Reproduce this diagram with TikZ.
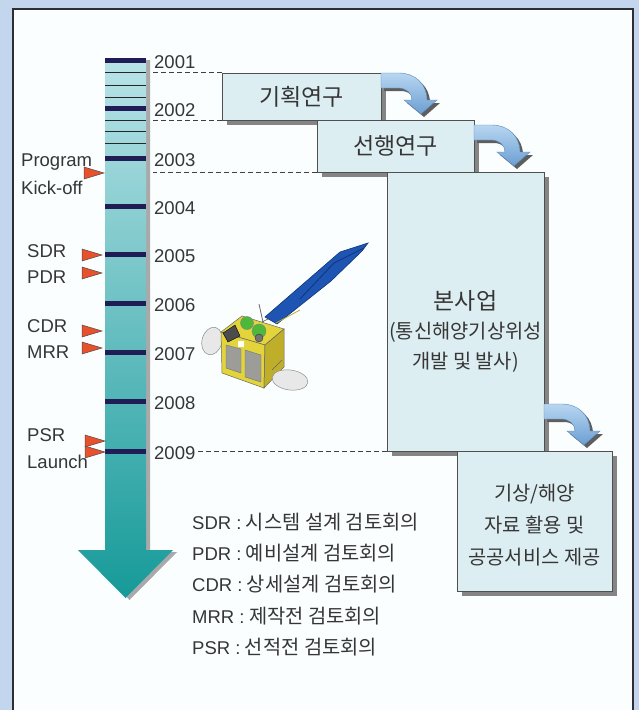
\documentclass[tikz,border=0pt]{standalone}
\usepackage{fontspec}
\setmainfont{Noto Sans CJK KR}
\newfontfamily\latinfont{Liberation Sans}
\usetikzlibrary{shadows}

\definecolor{pagebg}{HTML}{C4D6EE}
\definecolor{framefill}{HTML}{FAFEFE}
\definecolor{frameline}{HTML}{2E2E33}
\definecolor{boxfill}{HTML}{DDEEF3}
\definecolor{boxedge}{HTML}{505050}
\definecolor{shadowgray}{HTML}{858585}
\definecolor{tickcol}{HTML}{201C55}
\definecolor{flagred}{HTML}{E8512B}
\definecolor{barlight}{HTML}{B9E3E8}
\definecolor{bardark}{HTML}{169A99}
\definecolor{barshadow}{HTML}{A9A9A9}
\definecolor{turnlight}{HTML}{B8D6F1}
\definecolor{turndark}{HTML}{6B9FD3}
\definecolor{turnedge}{HTML}{5A86B8}
\definecolor{turnshadow}{HTML}{5E5E5E}
\definecolor{txt}{HTML}{363636}
\definecolor{panelblue}{HTML}{1E55B3}
\definecolor{paneledge}{HTML}{11367A}
\definecolor{satyellow}{HTML}{E3D43C}
\definecolor{satyellowdk}{HTML}{BFAE2A}
\definecolor{satgray}{HTML}{9C9C98}
\definecolor{satgreen}{HTML}{4DB83A}
\definecolor{dishgray}{HTML}{E8E8E8}

\tikzset{
  stagebox/.style={draw=boxedge, line width=0.9pt, fill=boxfill, inner sep=0pt,
    text=txt, drop shadow={shadow xshift=5pt, shadow yshift=-5pt, fill=shadowgray, opacity=1}},
  yearlabel/.style={anchor=west, inner sep=1pt, text=txt, font=\latinfont\fontsize{18.5}{20}\selectfont},
  flaglabel/.style={anchor=west, inner sep=0pt, text=txt, font=\latinfont\fontsize{18.5}{20}\selectfont},
  legendline/.style={anchor=west, inner sep=0pt, text=txt, font=\fontsize{19.8}{22}\selectfont},
  yeartick/.style={draw=tickcol, line width=5pt},
  minortick/.style={draw=black!85, line width=0.8pt},
  dashline/.style={draw=black!75, line width=0.8pt, dash pattern=on 5pt off 3pt},
  flag/.pic={
    \filldraw[fill=flagred, draw=black!70, line width=0.5pt]
      (-20,-6) -- (0,0) -- (-20,6) -- cycle;
  },
  turnarrow/.pic={
    \shadedraw[top color=turnlight, bottom color=turndark, draw=turnedge, line width=0.4pt,
      preaction={fill=turnshadow, transform canvas={xshift=3pt, yshift=-3pt}}]
      (0,0) -- (18,0) .. controls (34,0) and (46,11) .. (46,27) -- (56,27)
      -- (40,41) -- (23,27) -- (31,27) .. controls (31,20) and (25,15) .. (17,15)
      -- (0,15) -- cycle;
  }
}

\begin{document}
\begin{tikzpicture}[x=1pt, y=-1pt]
\useasboundingbox (0,0) rectangle (639,710);

% page and frame
\fill[pagebg] (0,0) rectangle (639,710);
\fill[framefill] (13,9) rectangle (633,716);
\draw[frameline, line width=1.5pt] (13,716) -- (13,9) -- (633,9) -- (633,716);

% time axis drawn as a broad arrow
\shade[top color=barlight, bottom color=bardark,
  preaction={fill=barshadow, transform canvas={xshift=4pt, yshift=-2pt}}]
  (105,58) -- (146,58) -- (146,550) -- (173,550) -- (125.5,598) -- (78,550) -- (105,550) -- cycle;

% quarter marks
\foreach \y in {72,85,97,120,131,143}
  \draw[minortick] (105,\y) -- (146,\y);

% year marks and labels
\foreach \yr/\y in {2001/60, 2002/108, 2003/158, 2004/206, 2005/254, 2006/303, 2007/352, 2008/401, 2009/451} {
  \draw[yeartick] (105,\y) -- (146,\y);
  \node[yearlabel] (y\yr) at (153,\y+2.5) {\yr};
}

% project stages
\node[stagebox, minimum width=159pt, minimum height=47pt, font=\fontsize{23}{26}\selectfont]
  (plan) at (301.5,96.5) {기획연구};
\node[stagebox, minimum width=157pt, minimum height=52pt, font=\fontsize{23}{26}\selectfont]
  (pre) at (395.5,146) {선행연구};
\node[stagebox, minimum width=157pt, minimum height=279pt] (main) at (465.5,311.5) {};
\node[stagebox, minimum width=155pt, minimum height=140pt] (serv) at (534.5,521) {};

\node[inner sep=0pt, text=txt, font=\fontsize{23}{26}\selectfont] (maintitle) at (465.5,301) {본사업};
\node[inner sep=0pt, text=txt, align=center, font=\fontsize{19.8}{30}\selectfont] (maintext) at (465.5,347) {(통신해양기상위성\\개발 및 발사)};
\node[inner sep=0pt, text=txt, align=center, font=\fontsize{19.8}{32}\selectfont] (servtext) at (534.5,525) {기상/해양\\자료 활용 및\\공공서비스 제공};

% stage transitions
\pic at (381,73) {turnarrow};
\pic at (474,125) {turnarrow};
\pic at (544,404) {turnarrow};

% guide lines from the years to the stages
\draw[dashline] (plan.north west) -- (plan.north west -| y2001.west);
\draw[dashline] (plan.south west) -- (plan.south west -| y2002.west);
\draw[dashline] (pre.south west) -- (pre.south west -| y2003.west);
\draw[dashline] (main.south west) -- (main.south west -| y2009.east);

% milestone labels
\node[flaglabel] (kick1) at (21,162) {Program};
\node[flaglabel] (kick2) at (21,188) {Kick-off};
\node[flaglabel] (sdr) at (27,251) {SDR};
\node[flaglabel] (pdr) at (27,277) {PDR};
\node[flaglabel] (cdr) at (27,326) {CDR};
\node[flaglabel] (mrr) at (27,352) {MRR};
\node[flaglabel] (psr) at (27,435) {PSR};
\node[flaglabel] (launch) at (27,462) {Launch};

% milestone flags
\foreach \x/\y in {104/173, 102/255, 102/273, 102/331, 102/348, 105/441, 105/452}
  \pic at (\x,\y) {flag};

% satellite: dishes behind the bus
\filldraw[fill=dishgray, draw=black!45, line width=0.5pt, rotate around={-15:(212,341)}]
  (212,341) ellipse [x radius=10, y radius=14];
% solar wing
\filldraw[fill=panelblue, draw=paneledge, line width=0.6pt]
  (265,317) -- (340,252) -- (368,243) -- (362,251) -- (331,281) -- (277,324) -- cycle;
\draw[paneledge, line width=0.8pt] (300,299) -- (334,263) -- (364,248);
\draw[satyellowdk, line width=0.8pt] (276,323) -- (300,310);
% bus
\filldraw[fill=satyellow, draw=black!60, line width=0.5pt]
  (221,332) -- (242,316) -- (284,329) -- (265,345) -- cycle;
\filldraw[fill=satyellow, draw=black!60, line width=0.5pt]
  (221,332) -- (265,345) -- (264,388) -- (222,373) -- cycle;
\filldraw[fill=satyellowdk, draw=black!60, line width=0.5pt]
  (265,345) -- (284,329) -- (284,367) -- (264,388) -- cycle;
\filldraw[fill=satgray, draw=black!55, line width=0.4pt]
  (226,345) -- (241,349) -- (241,373) -- (226,368) -- cycle;
\filldraw[fill=satgray, draw=black!55, line width=0.4pt]
  (245,350) -- (261,355) -- (261,382) -- (245,377) -- cycle;
\fill[white] (238,341) rectangle (244,347);
\filldraw[fill=black!70, draw=black] (223,333) -- (235,325) -- (240,336) -- (228,342) -- cycle;
\filldraw[fill=satgreen, draw=black!50, line width=0.4pt] (247,323) circle [radius=6.5];
\filldraw[fill=satgreen, draw=black!50, line width=0.4pt] (259,331) circle [radius=7];
\filldraw[fill=black!55, draw=black!80, line width=0.4pt] (259,338) circle [radius=4];
\draw[black!60, line width=0.8pt] (259,304) -- (263,322);
\draw[black!70, line width=0.5pt] (262,322) -- (270,318);
% front dish
\filldraw[fill=dishgray, draw=black!45, line width=0.5pt, rotate around={-8:(290,380)}]
  (290,380) ellipse [x radius=18, y radius=10];
\draw[black!60, line width=0.5pt] (272,370) -- (282,360);

% legend
\node[legendline] (leg1) at (192,522) {{\latinfont\fontsize{18.5}{22}\selectfont SDR :} 시스템 설계 검토회의};
\node[legendline] (leg2) at (192,553) {{\latinfont\fontsize{18.5}{22}\selectfont PDR :} 예비설계 검토회의};
\node[legendline] (leg3) at (192,584) {{\latinfont\fontsize{18.5}{22}\selectfont CDR :} 상세설계 검토회의};
\node[legendline] (leg4) at (192,616) {{\latinfont\fontsize{18.5}{22}\selectfont MRR :} 제작전 검토회의};
\node[legendline] (leg5) at (192,647) {{\latinfont\fontsize{18.5}{22}\selectfont PSR :} 선적전 검토회의};
\end{tikzpicture}
\end{document}
